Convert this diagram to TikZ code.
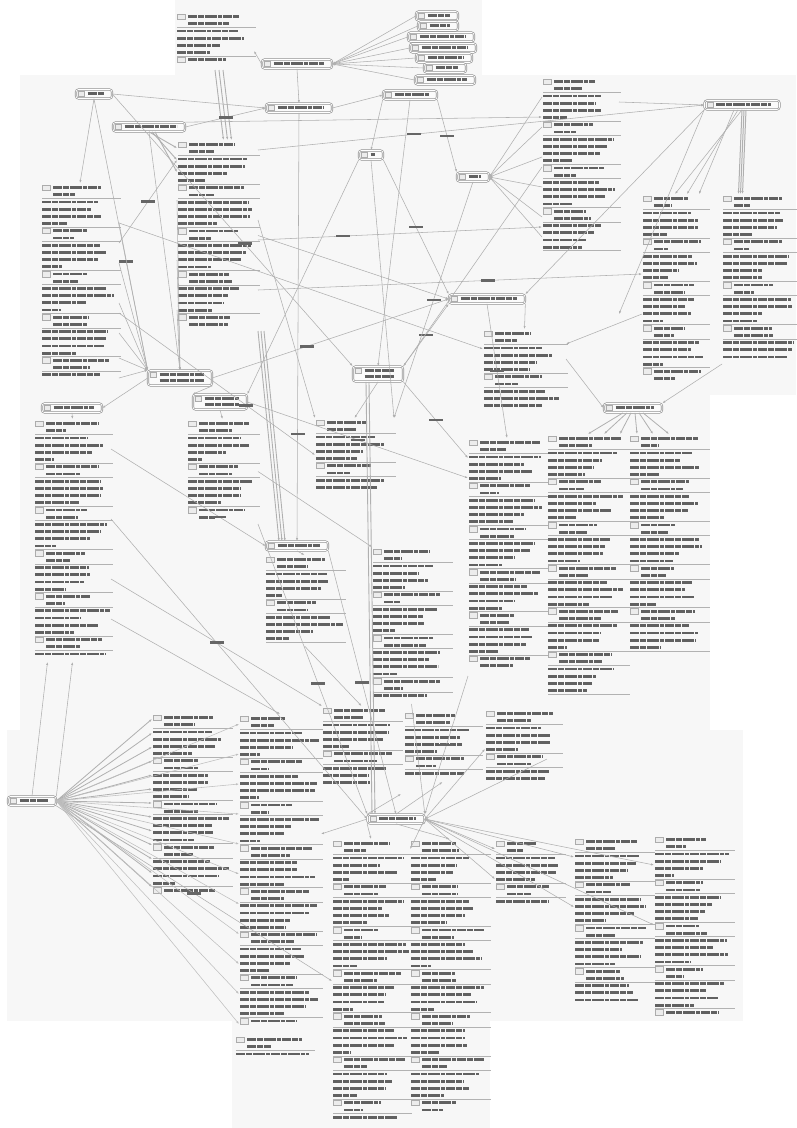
\documentclass[tikz,border=0pt]{standalone}
\usepackage{tikz}
\usetikzlibrary{arrows.meta,positioning}

\tikzset{
  sheet/.style={fill=gray!6, draw=none},
  concept/.style={draw=gray!85, line width=0.7pt, double=white, double distance=0.7pt,
    rounded corners=2.5pt, fill=gray!3, inner sep=0pt},
  noteframe/.style={inner sep=0pt, outer sep=1pt},
  iconbox/.style={draw=gray!65, line width=0.5pt, fill=gray!15},
  textbar/.style={line width=2.7pt, black!62,
    dash pattern=on 9pt off 1pt on 6pt off 1pt on 12pt off 1pt on 4pt off 1pt},
  rule/.style={gray!60, line width=0.7pt},
  link/.style={draw=gray!62, line width=0.55pt, -{Latex[length=3pt,width=2.2pt]}},
  lbl/.style={fill=black!60, inner sep=0pt, minimum width=14pt, minimum height=2.4pt},
}

% block of (unreadable) list text: name, x1, y1, x2, y2
\newcommand{\notes}[5]{%
  \node[noteframe, minimum width={#4-#2}, minimum height={#5-#3}] (#1) at ({(#2+#4)/2},{(#3+#5)/2}) {};
  \pgfmathtruncatemacro{\nrows}{(#5-#3)/7.2}
  \foreach \r in {1,...,\nrows}{
    \pgfmathsetmacro{\yy}{#3+(\r-0.5)*7.2}
    \pgfmathtruncatemacro{\kind}{mod(\r-1,6)}
    \pgfmathsetmacro{\ww}{#4-#2}
    \ifnum\kind=0
      \draw[iconbox] (#2,\yy-2.8) rectangle (#2+8,\yy+2.8);
      \pgfmathsetmacro{\xe}{#2+11+(0.5+0.45*rnd)*(\ww-11)}
      \draw[textbar] (#2+11,\yy) -- (\xe,\yy);
    \fi
    \ifnum\kind=1
      \pgfmathsetmacro{\xe}{#2+11+(0.25+0.4*rnd)*(\ww-11)}
      \draw[textbar] (#2+11,\yy) -- (\xe,\yy);
    \fi
    \ifnum\kind=2
      \draw[rule] (#2,\yy-3.6) -- (#4+3,\yy-3.6);
      \pgfmathsetmacro{\xe}{#2+(0.7+0.3*rnd)*\ww}
      \draw[textbar] (#2,\yy) -- (\xe,\yy);
    \fi
    \ifnum\kind=3
      \pgfmathsetmacro{\xe}{#2+(0.6+0.4*rnd)*\ww}
      \draw[textbar] (#2,\yy) -- (\xe,\yy);
    \fi
    \ifnum\kind=4
      \pgfmathsetmacro{\xe}{#2+(0.55+0.4*rnd)*\ww}
      \draw[textbar] (#2,\yy) -- (\xe,\yy);
    \fi
    \ifnum\kind=5
      \pgfmathsetmacro{\xe}{#2+(0.2+0.4*rnd)*\ww}
      \draw[textbar] (#2,\yy) -- (\xe,\yy);
      \draw[rule] (#2,\yy+3.6) -- (#4+3,\yy+3.6);
    \fi
  }
}

% concept box: name, x, y, width, lines
\newcommand{\concept}[5]{%
  \node[concept, minimum width=#4, minimum height={3+6*#5}] (#1) at (#2,#3) {};
  \draw[iconbox] ([xshift=3pt,yshift=-2pt]#1.north west) rectangle ++(6pt,-5pt);
  \foreach \l in {1,...,#5}
    \draw[textbar] ([xshift=12pt,yshift={-1.5-6*(\l-0.5)}]#1.north west) -- ++({#4-20},0);
}

\begin{document}
\begin{tikzpicture}[x=1pt, y=-1pt]
\pgfmathsetseed{11}
\useasboundingbox[fill=white] (0,0) rectangle (796,1128);

% pasted sheets
\fill[sheet] (175,0) rectangle (482,81);
\fill[sheet] (20,75) rectangle (796,395);
\fill[sheet] (20,395) rectangle (710,730);
\fill[sheet] (7,730) rectangle (743,1021);
\fill[sheet] (232,1021) rectangle (490,1128);

% text blocks
\notes{T1}{177}{13}{253}{69}
\notes{T2}{178}{141}{257}{330}
\notes{T3}{42}{184}{118}{383}
\notes{T4}{543}{78}{618}{253}
\notes{T5}{643}{195}{707}{388}
\notes{T6}{723}{195}{794}{363}
\notes{T7}{484}{330}{565}{415}
\notes{T8}{316}{419}{393}{491}
\notes{T9}{188}{420}{257}{523}
\notes{T10}{35}{420}{110}{661}
\notes{T11}{469}{439}{545}{675}
\notes{T12}{548}{435}{627}{698}
\notes{T13}{630}{435}{707}{656}
\notes{T14}{266}{556}{343}{645}
\notes{T15}{373}{548}{450}{703}
\notes{T17}{153}{714}{230}{894}
\notes{T18}{240}{715}{320}{1030}
\notes{T19}{323}{707}{400}{793}
\notes{T20}{405}{712}{480}{781}
\notes{T21}{486}{710}{560}{784}
\notes{T22}{333}{840}{409}{1122}
\notes{T23}{411}{840}{488}{1116}
\notes{T24}{496}{840}{563}{911}
\notes{T25}{575}{838}{652}{1008}
\notes{T26}{655}{836}{732}{1017}
\notes{T27}{236}{1036}{312}{1062}

% concepts
\concept{cTop}{297}{64}{70}{1}
\concept{s1}{437}{16}{42}{1}
\concept{s2}{438}{26}{40}{1}
\concept{s3}{441}{37}{66}{1}
\concept{s4}{443}{48}{66}{1}
\concept{s5}{444}{58}{56}{1}
\concept{s6}{445}{68}{42}{1}
\concept{s7}{445}{80}{60}{1}
\concept{cA}{94}{94}{36}{1}
\concept{cB}{149}{127}{72}{1}
\concept{cC}{299}{108}{66}{1}
\concept{cD}{410}{95}{54}{1}
\concept{cE}{371}{155}{24}{1}
\concept{cF}{473}{177}{32}{1}
\concept{cG}{742}{105}{75}{1}
\concept{cH}{487}{299}{76}{1}
\concept{cI}{180}{378}{64}{2}
\concept{cK}{378}{374}{50}{2}
\concept{cJ}{220}{402}{54}{2}
\concept{cL}{72}{408}{60}{1}
\concept{cN}{633}{408}{58}{1}
\concept{cM}{297}{546}{62}{1}
\concept{cP}{32}{801}{48}{1}
\concept{cO}{396}{819}{57}{1}

% top sheet
\foreach \s in {s1,s2,s3,s4,s5,s6,s7}
  \draw[link] (\s.west) -- (cTop.east);
\draw[link] (cTop.west) -- ([yshift=-10]T1.east);
\draw[link] (cTop.south) -- (cC.north);
\foreach \d in {0,4,8}
  \draw[link, line width=0.9pt] ([xshift=\d]T1.south) -- ([xshift={\d+6}]T2.north);

% upper left
\draw[link] (cA.east) -- (cC.west);
\draw[link] (cB.east) -- node[lbl] (l1) {} (cC.west);
\foreach \d in {0,3,6}
  \draw[link, line width=0.9pt] ([xshift=\d]cB.south) -- ([yshift={-8-4*\d}]T2.north west);
\draw[link] (cA.south) -- (T3.north);
\draw[link] (cA.south) -- node[lbl, pos=0.6] (l2) {} (cI.north west);
\draw[link] (cB.south) -- (cI.north);
\foreach \f in {40,80,120,150,175,195}
  \draw[link] ([yshift=-\f]T3.north east) -- (cI.north west);
\foreach \f in {60,120,170}
  \draw[link] ([yshift=-\f]T2.north west) -- (cI.north);
\draw[link] (cI.west) -- (cL.east);
\draw[link] (cI.south east) -- (cJ.north west);
\draw[link] (cJ.south) -- (T9.north);
\draw[link] (cL.south) -- (T10.north);
\draw[link] ([yshift=-60]T3.north east) -- node[lbl] (l3) {} ([yshift=-20]T2.north west);

% middle
\draw[link] (cC.south) -- node[lbl, pos=0.75] (l4) {} (cM.north);
\foreach \d in {0,3,6}
  \draw[link, line width=0.9pt] ([xshift=\d]T2.south east) -- ([xshift={\d-18}]cM.north);
\draw[link] (cC.east) -- (cD.west);
\draw[link] (cD.south) -- (cK.north);
\draw[link] (cD.south east) -- node[lbl] (l5) {} (cF.north west);
\draw[link] (cD.south west) -- (cE.north);
\draw[link] (cE.south east) -- node[lbl] (l6) {} (cH.north west);
\draw[link] ([yshift=-10]T2.north east) -- node[lbl, pos=0.35] (l7) {} (cG.west);
\draw[link] ([yshift=-100]T2.north east) -- node[lbl, pos=0.3] (l8) {} ([yshift=-150]T4.north west);
\draw[link] (T2.east) -- (cH.west);
\draw[link] (cI.east) -- node[lbl, pos=0.4] (l9) {} (cH.west);
\draw[link] (cK.south) -- (T8.north);
\draw[link] (cK.north east) -- node[lbl] (l10) {} (cH.south west);
\draw[link] (cK.south east) -- node[lbl] (l11) {} ([yshift=-20]T11.north west);
\draw[link, line width=0.9pt] ([xshift=-12]cK.south) -- ([xshift=-24]cO.north);
\draw[link, line width=0.9pt] ([xshift=-9]cK.south) -- ([xshift=-21]cO.north);
\draw[link] (cE.south) -- (T8.north east);
% long crossing lines
\draw[link] (cA.east) -- node[lbl, pos=0.55] (l18) {} (cK.north west);
\draw[link] ([yshift=-40]T3.north east) -- ([yshift=-20]T7.north west);
\draw[link] ([yshift=-150]T2.north east) -- node[lbl, pos=0.6] (l19) {} ([yshift=-80]T5.north west);
\draw[link] (cB.north east) -- ([yshift=-40]T4.north west);
\draw[link] ([yshift=-80]T2.north east) -- (T8.north west);
\draw[link] (cJ.east) -- node[lbl] (l20) {} ([yshift=-40]T11.north west);
\draw[link] (T9.east) -- (T15.north west);
\draw[link] (cF.south) -- node[lbl] (l21) {} (T8.north east);
\draw[link] ([yshift=-90]T4.north west) -- (cK.north east);
\draw[link] (cE.south west) -- (cJ.north east);
\draw[link] ([yshift=-130]T3.north east) -- node[lbl, pos=0.65] (l22) {} (T8.west);

% right
\foreach \f in {20,50,80,110,140,160}
  \draw[link] ([yshift=-\f]T4.north west) -- (cF.east);
\draw[link] ([yshift=-25]T4.north east) -- (cG.west);
\foreach \d in {0,4,8}
  \draw[link] ([xshift=-\d]cG.south) -- ([xshift={3*\d}]T5.north);
\foreach \d in {0,2,4}
  \draw[link, line width=1pt] ([xshift=\d]cG.south) -- ([xshift={\d-20}]T6.north);
\draw[link] (cG.south west) -- (cH.north east);
\draw[link] (cG.south west) -- ([yshift=-60]T4.south east);
\draw[link] (cH.south east) -- (T7.north);
\draw[link] (cH.south) -- node[lbl] (l12) {} (T11.north);
\draw[link] (T6.south west) -- (cN.north east);
\draw[link] ([yshift=-30]T7.north east) -- (cN.west);
\draw[link] ([yshift=-120]T5.north west) -- ([yshift=-15]T7.north east);
\foreach \d in {-10,-6,-2}
  \draw[link, line width=0.8pt] ([xshift=\d]cN.south) -- ([xshift={4*\d}]T12.north east);
\foreach \d in {2,6,10}
  \draw[link, line width=0.8pt] ([xshift=\d]cN.south) -- ([xshift={4*\d}]T13.north west);

% lower middle
\draw[link] (cM.south) -- (T14.north);
\draw[link] (cM.south east) -- node[lbl] (l13) {} (cO.north);
\draw[link] (T9.south east) -- node[lbl, pos=0.55] (l14) {} (cO.north west);
\draw[link] ([yshift=-100]T10.north east) -- (cO.west);
\draw[link] ([yshift=-160]T10.north east) -- node[lbl] (l15) {} (T19.north west);
\draw[link] ([yshift=-200]T10.north east) -- (T18.north);
\draw[link] (T15.south) -- (cO.north east);
\draw[link] (T11.south west) -- node[lbl] (l16) {} (cO.north east);
\draw[link] ([yshift=-60]T12.south west) -- (cO.east);
\draw[link] (T14.south) -- (T19.north);
\draw[link] ([yshift=-30]T10.north east) -- node[lbl, pos=0.7] (l23) {} (cM.west);

% bottom hub
\foreach \t/\f in {T24/10,T24/40,T25/20,T25/70,T26/30,T26/90,T21/40,T23/10}
  \draw[link] (cO.east) -- ([yshift=-\f]\t.north west);
\draw[link] (cO.south west) -- (T22.north);
\draw[link] (cO.south) -- (T23.north);
\draw[link] (cO.north west) -- (T19.south east);
\draw[link] (cO.north) -- (T20.south);
\draw[link] (cO.west) -- ([yshift=-120]T18.north east);

% left hub
\foreach \f in {6,20,34,48,62,76,90,104,118,132,146,160,174}
  \draw[link, line width=0.8pt] (cP.east) -- ([yshift=-\f]T17.north west);
\foreach \f in {10,40,70,100,130,160,190,220,250,280,310}
  \draw[link, draw=gray!50] (cP.east) -- ([yshift=-\f]T18.north west);
\draw[link] (cP.north east) -- (T10.south);
\draw[link] (cP.north) -- ([xshift=-25]T10.south);
\draw[link] (cP.south east) -- node[lbl, pos=0.5] (l17) {} (T22.west);
\end{tikzpicture}
\end{document}
